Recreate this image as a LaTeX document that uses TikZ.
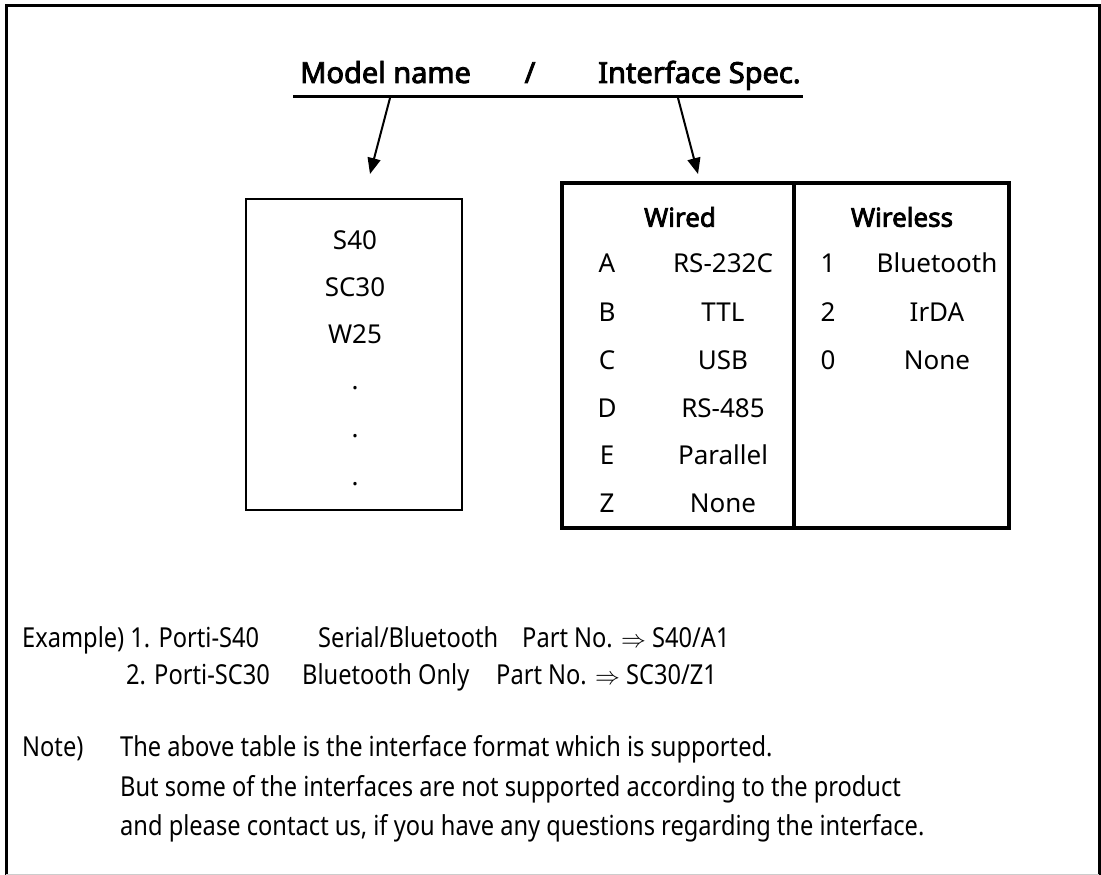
\documentclass[tikz,border=0pt]{standalone}
\usepackage{fontspec}
\setmainfont[AutoFakeBold=3]{Noto Sans}
\newfontfamily\notefont[FakeStretch=0.86]{Noto Sans}
\usepackage{tikz}
\usetikzlibrary{arrows.meta}

\tikzset{
  txt/.style={inner sep=0pt, font=\fontsize{26}{30}\selectfont},
  hdr/.style={inner sep=0pt, font=\fontsize{26}{30}\selectfont\bfseries},
  ttl/.style={inner sep=0pt, anchor=base west, font=\fontsize{29}{33}\selectfont\bfseries},
  note/.style={inner sep=0pt, anchor=base west, font=\fontsize{27.5}{31}\selectfont\notefont},
  pointer/.style={line width=2pt, -{Triangle[length=16pt,width=13pt]}}
}

\begin{document}
\begin{tikzpicture}[x=1pt,y=-1pt]
  \useasboundingbox (0,0) rectangle (1101,875);
  \draw[line width=3pt] (6,875) -- (6,6) -- (1099,6) -- (1099,875);
  \draw[gray!40, line width=1pt] (6,874) -- (1099,874);

   \draw (300,83) node[ttl] (model) {Model name};
   \draw (530,83) node[ttl, anchor=base] (slash) {/};
   \draw (598,83) node[ttl] (spec) {Interface Spec.};
   \draw[line width=3pt] (293,97) coordinate (lineL) -- (803,97) coordinate (lineR);
   \coordinate (modelfoot) at (390,98);
   \coordinate (specfoot) at (678,98);

   \node[draw, line width=1.5pt, minimum width=216pt, minimum height=311pt, inner sep=0pt] (models) at (354,354.5) {};
     \draw (355,240) node[txt] (s40) {S40};
     \draw (355,287) node[txt] (sc30) {SC30};
     \draw (355,334) node[txt] (w25) {W25};
     \draw (355,388) node[txt] (dot1) {.};
     \draw (355,436) node[txt] (dot2) {.};
     \draw (355,484) node[txt] (dot3) {.};

   \node[draw, line width=3.5pt, minimum width=447pt, minimum height=345pt, inner sep=0pt] (iface) at (785.5,355.5) {};
   \draw[line width=3.5pt] (iface.north) ++(8.5,0) coordinate (divtop) -- (divtop |- iface.south);

     \draw (680,217) node[hdr] (wired) {Wired};
     \draw (607,263) node[txt] (a) {A};
       \draw (723,263) node[txt] (rs232) {RS-232C};
     \draw (607,312) node[txt] (b) {B};
       \draw (723,312) node[txt] (ttl) {TTL};
     \draw (607,360) node[txt] (c) {C};
       \draw (723,360) node[txt] (usb) {USB};
     \draw (607,408) node[txt] (d) {D};
       \draw (723,408) node[txt] (rs485) {RS-485};
     \draw (607,455) node[txt] (e) {E};
       \draw (723,455) node[txt] (par) {Parallel};
     \draw (607,503) node[txt] (z) {Z};
       \draw (723,503) node[txt] (nonew) {None};

     \draw (902,217) node[hdr] (wireless) {Wireless};
     \draw (828,263) node[txt] (one) {1};
       \draw (937,263) node[txt] (bt) {Bluetooth};
     \draw (828,312) node[txt] (two) {2};
       \draw (937,312) node[txt] (irda) {IrDA};
     \draw (828,360) node[txt] (zero) {0};
       \draw (937,360) node[txt] (nonewl) {None};

   \draw[pointer] (modelfoot) -- (370,174);
   \draw[pointer] (specfoot) -- (698,174);

   \draw (22,647) node[note] (ex1) {Example) 1. Porti-S40};
   \draw (318,647) node[note] (ex1b) {Serial/Bluetooth};
   \draw (522,647) node[note] (ex1c) {Part No. $\Rightarrow$ S40/A1};
   \draw (126,684) node[note] (ex2) {2. Porti-SC30};
   \draw (302,684) node[note] (ex2b) {Bluetooth Only};
   \draw (496,684) node[note] (ex2c) {Part No. $\Rightarrow$ SC30/Z1};

   \draw (22,756) node[note] (notehd) {Note)};
   \draw (120,756) node[note] (note1) {The above table is the interface format which is supported.};
   \draw (120,796) node[note] (note2) {But some of the interfaces are not supported according to the product};
   \draw (120,835) node[note] (note3) {and please contact us, if you have any questions regarding the interface.};
\end{tikzpicture}
\end{document}
